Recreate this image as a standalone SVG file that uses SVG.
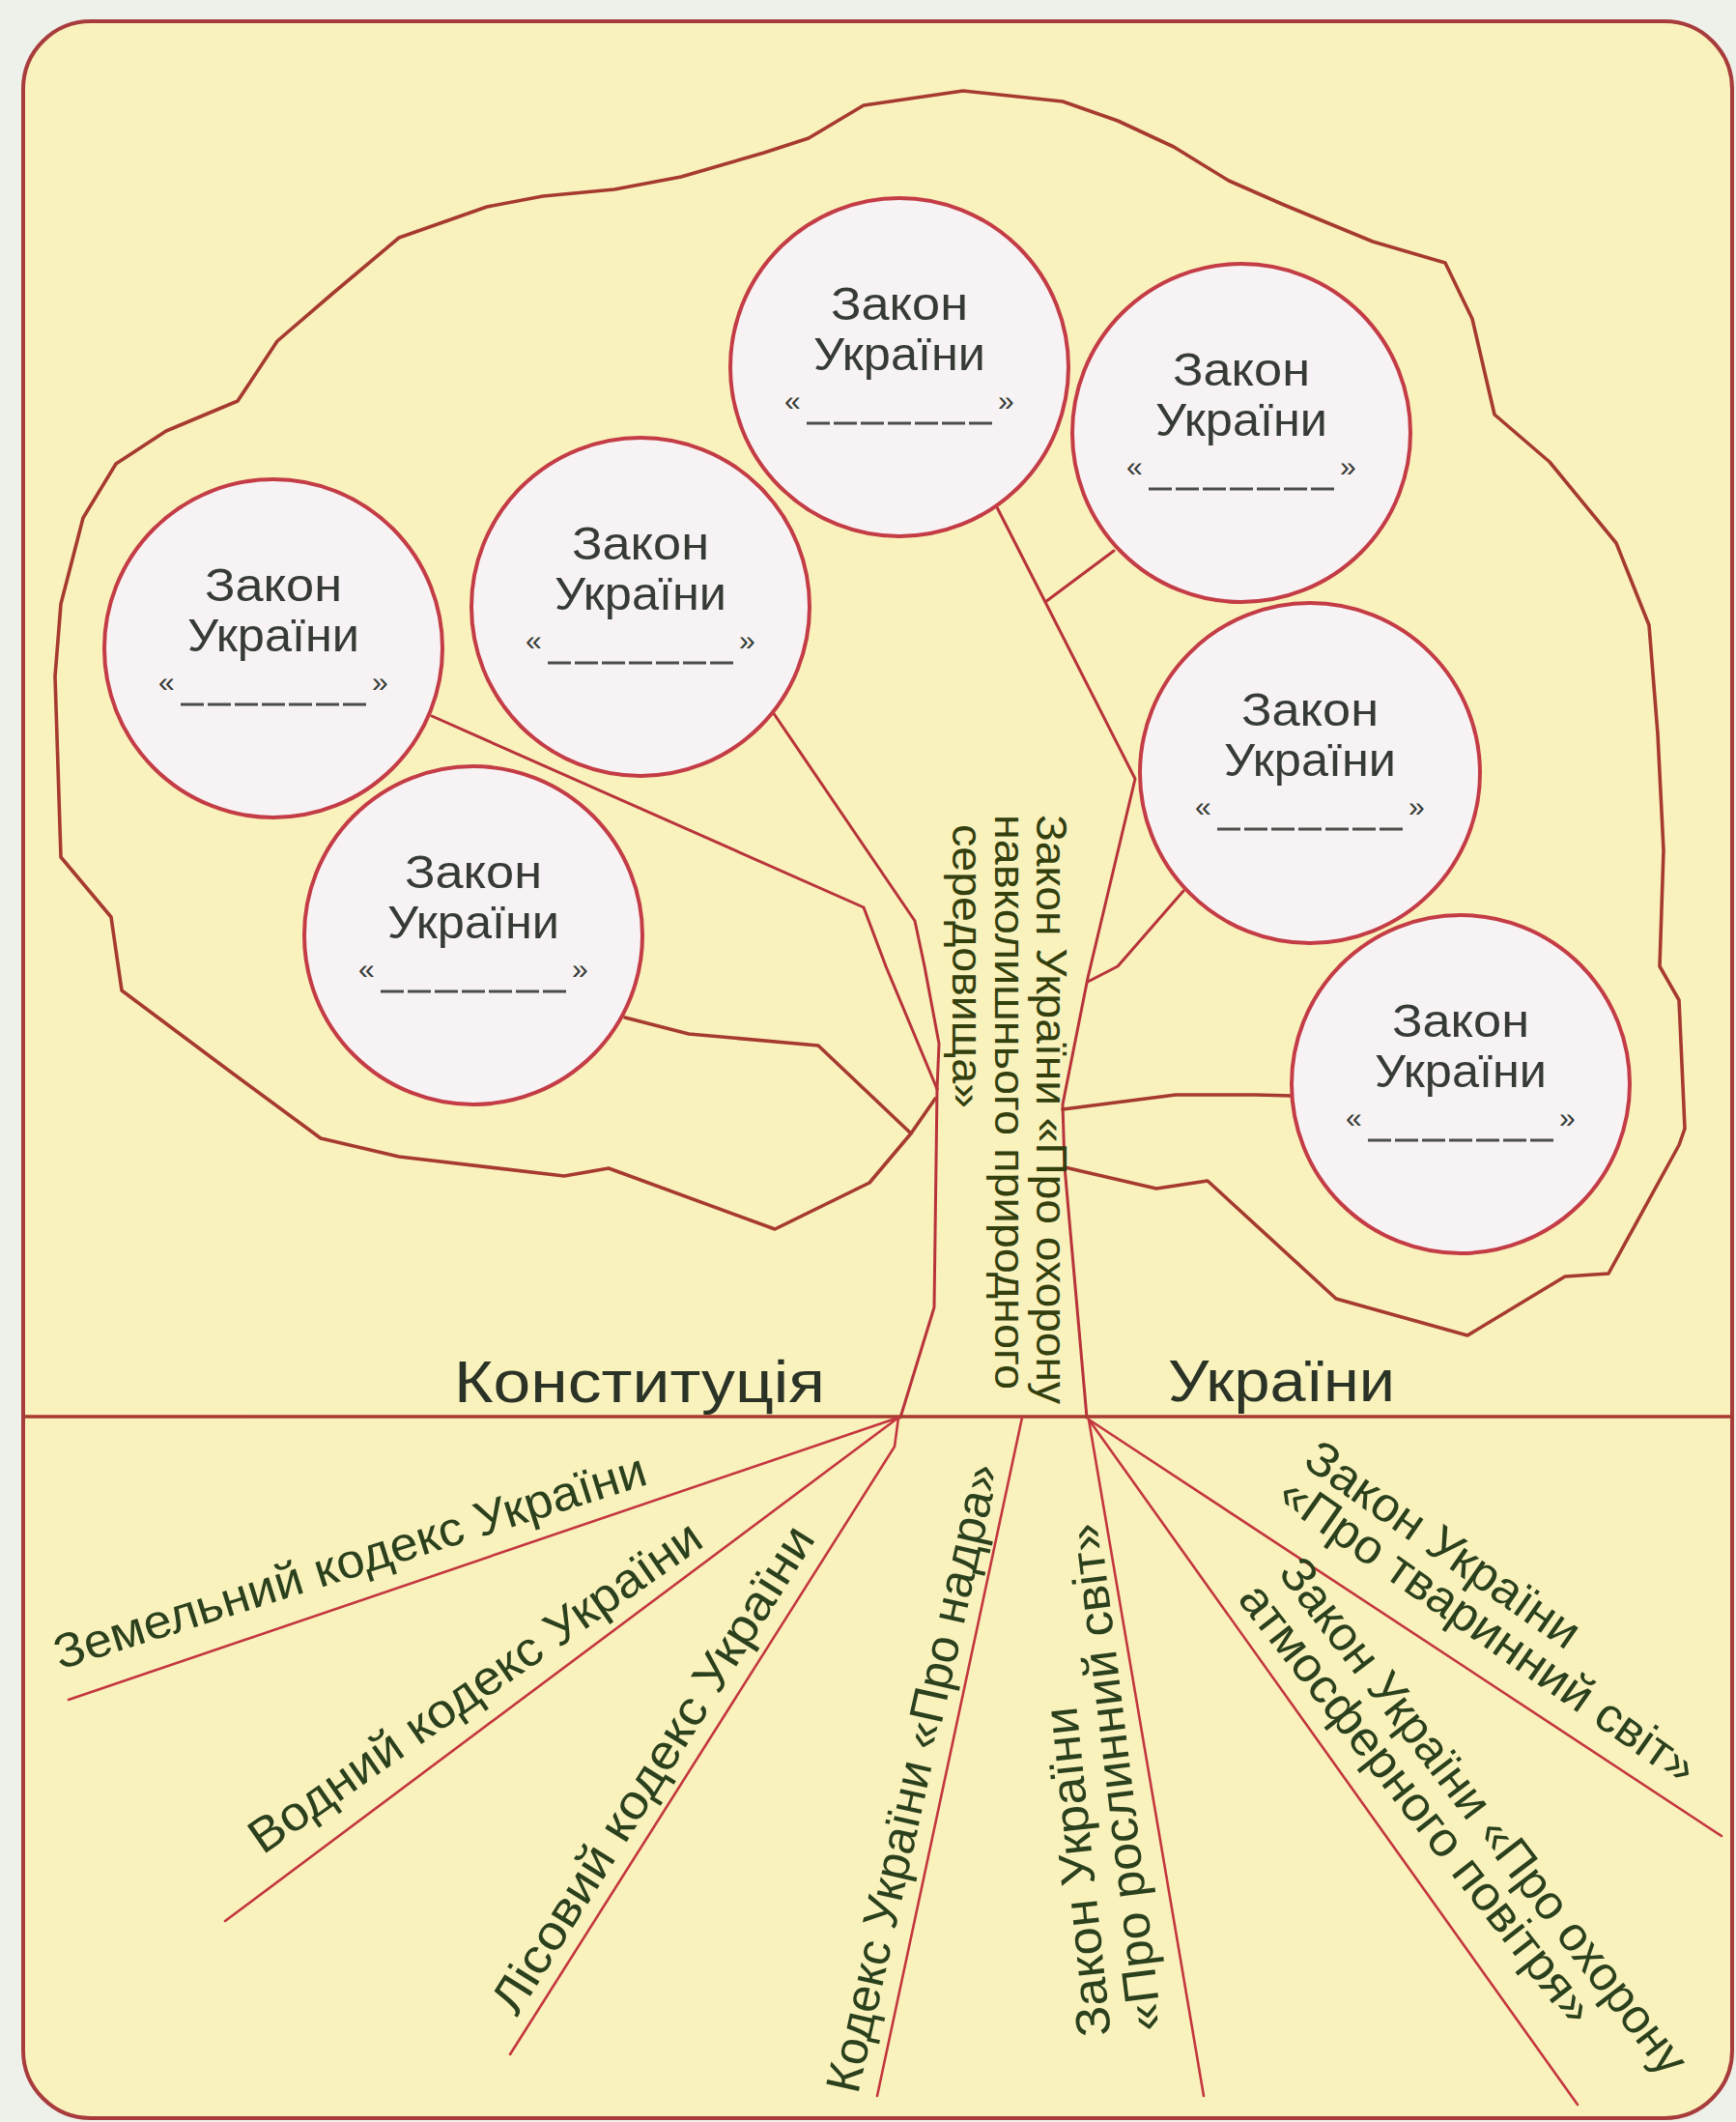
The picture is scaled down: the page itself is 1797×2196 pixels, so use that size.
<svg xmlns="http://www.w3.org/2000/svg" width="1797" height="2196" viewBox="0 0 1797 2196">
<style>
.crown{fill:none;stroke:#a63a30;stroke-width:3.6;stroke-linejoin:round;stroke-linecap:round}
.trunk{fill:none;stroke:#b8333a;stroke-width:3;stroke-linejoin:round;stroke-linecap:round}
.root{fill:none;stroke:#c4363e;stroke-width:2.6;stroke-linecap:round}
.node circle{fill:#f7f3f4;stroke:#c43c46;stroke-width:4}
.nt{font-family:"Liberation Sans",Arial,sans-serif;font-size:48px;fill:#363b36}
.q{font-family:"Liberation Sans",Arial,sans-serif;font-size:30px;fill:#363b36}
.dash{stroke:#4a4d48;stroke-width:3;stroke-dasharray:24 4}
.lbl{font-family:"Liberation Sans",Arial,sans-serif;font-size:50px;fill:#2b401c}
.big{font-family:"Liberation Sans",Arial,sans-serif;font-size:61px;fill:#2a3326}
.tr{font-family:"Liberation Sans",Arial,sans-serif;font-size:44px;fill:#33400e}
</style>
<rect x="0" y="0" width="1797" height="2196" fill="#eef0ea"/>
<rect x="24" y="22" width="1769" height="2170" rx="70" fill="#f9f2bd" stroke="#a83c3c" stroke-width="4"/>

<g id="connectors">
  <path class="crown" d="M1102,1208 L1197,1230 L1250,1222 L1383,1344 L1519,1382 L1620,1321 L1665,1318 L1738,1185 L1744,1168 L1738,1035 L1718,1000 L1722,880 L1716,760 L1707,647 L1673,562 L1604,478 L1547,429 L1524,330 L1496,272 L1421,250 L1329,212 L1272,187 L1215,152 L1157,125 L1100,105 L997,94 L894,109 L837,143 L791,158 L705,183 L636,196 L562,203 L504,214 L413,246 L344,304 L287,353 L246,415 L172,446 L120,480 L86,536 L63,625 L57,700 L63,887 L115,949 L126,1025 L229,1102 L332,1178 L413,1197 L584,1217 L630,1209 L802,1272 L900,1224 L943,1173 L968,1137"/>
  <polyline class="crown" points="647,1053 713,1070 847,1082 943,1173"/>
  <polyline class="trunk" points="447,741 894,939 917,1000 970,1127"/>
  <polyline class="trunk" points="800,737 947,953 957,1000 972,1080 970,1127"/>
  <polyline class="trunk" points="970,1127 967,1353 932,1467"/>
  <polyline class="trunk" points="1032,525 1082,623 1175,806 1126,1012 1100,1143 1102,1207 1125,1467"/>
  <polyline class="trunk" points="1153,570 1082,623"/>
  <polyline class="trunk" points="1225,922 1157,1000 1126,1016"/>
  <polyline class="crown" points="1337,1134 1300,1133 1217,1133 1100,1148"/>
  <line class="crown" x1="24" y1="1466" x2="1793" y2="1466"/>
  <line class="root" x1="930" y1="1467" x2="71" y2="1759"/>
  <line class="root" x1="930" y1="1467" x2="233" y2="1988"/>
  <polyline class="root" points="930,1467 926,1497 528,2126"/>
  <line class="root" x1="1058" y1="1467" x2="908" y2="2169"/>
  <line class="root" x1="1127" y1="1469" x2="1246" y2="2169"/>
  <line class="root" x1="1127" y1="1469" x2="1633" y2="2178"/>
  <line class="root" x1="1127" y1="1469" x2="1782" y2="1900"/>
</g>

<g id="node-1" class="node">
  <circle cx="931" cy="380" r="175"/>
  <text class="nt" x="860" y="331" textLength="142" lengthAdjust="spacingAndGlyphs">Закон</text>
  <text class="nt" x="842" y="383" textLength="178" lengthAdjust="spacingAndGlyphs">України</text>
  <text class="q" x="812" y="425">«</text><text class="q" x="1033" y="425">»</text>
  <line class="dash" x1="835" y1="438" x2="1029" y2="438"/>
</g>
<g id="node-2" class="node">
  <circle cx="1285" cy="448" r="175"/>
  <text class="nt" x="1214" y="399" textLength="142" lengthAdjust="spacingAndGlyphs">Закон</text>
  <text class="nt" x="1196" y="451" textLength="178" lengthAdjust="spacingAndGlyphs">України</text>
  <text class="q" x="1166" y="493">«</text><text class="q" x="1387" y="493">»</text>
  <line class="dash" x1="1189" y1="506" x2="1383" y2="506"/>
</g>
<g id="node-3" class="node">
  <circle cx="663" cy="628" r="175"/>
  <text class="nt" x="592" y="579" textLength="142" lengthAdjust="spacingAndGlyphs">Закон</text>
  <text class="nt" x="574" y="631" textLength="178" lengthAdjust="spacingAndGlyphs">України</text>
  <text class="q" x="544" y="673">«</text><text class="q" x="765" y="673">»</text>
  <line class="dash" x1="567" y1="686" x2="761" y2="686"/>
</g>
<g id="node-4" class="node">
  <circle cx="283" cy="671" r="175"/>
  <text class="nt" x="212" y="622" textLength="142" lengthAdjust="spacingAndGlyphs">Закон</text>
  <text class="nt" x="194" y="674" textLength="178" lengthAdjust="spacingAndGlyphs">України</text>
  <text class="q" x="164" y="716">«</text><text class="q" x="385" y="716">»</text>
  <line class="dash" x1="187" y1="729" x2="381" y2="729"/>
</g>
<g id="node-5" class="node">
  <circle cx="490" cy="968" r="175"/>
  <text class="nt" x="419" y="919" textLength="142" lengthAdjust="spacingAndGlyphs">Закон</text>
  <text class="nt" x="401" y="971" textLength="178" lengthAdjust="spacingAndGlyphs">України</text>
  <text class="q" x="371" y="1013">«</text><text class="q" x="592" y="1013">»</text>
  <line class="dash" x1="394" y1="1026" x2="588" y2="1026"/>
</g>
<g id="node-6" class="node">
  <circle cx="1356" cy="800" r="176"/>
  <text class="nt" x="1285" y="751" textLength="142" lengthAdjust="spacingAndGlyphs">Закон</text>
  <text class="nt" x="1267" y="803" textLength="178" lengthAdjust="spacingAndGlyphs">України</text>
  <text class="q" x="1237" y="845">«</text><text class="q" x="1458" y="845">»</text>
  <line class="dash" x1="1260" y1="858" x2="1454" y2="858"/>
</g>
<g id="node-7" class="node">
  <circle cx="1512" cy="1122" r="175"/>
  <text class="nt" x="1441" y="1073" textLength="142" lengthAdjust="spacingAndGlyphs">Закон</text>
  <text class="nt" x="1423" y="1125" textLength="178" lengthAdjust="spacingAndGlyphs">України</text>
  <text class="q" x="1393" y="1167">«</text><text class="q" x="1614" y="1167">»</text>
  <line class="dash" x1="1416" y1="1180" x2="1610" y2="1180"/>
</g>

<g id="trunk-label">
  <text class="tr" transform="translate(1073,843) rotate(90)" textLength="610" lengthAdjust="spacingAndGlyphs">Закон України «Про охорону</text>
  <text class="tr" transform="translate(1030,843) rotate(90)" textLength="595" lengthAdjust="spacingAndGlyphs">навколишнього природного</text>
  <text class="tr" transform="translate(986,853) rotate(90)" textLength="294" lengthAdjust="spacingAndGlyphs">середовища»</text>
</g>

<g id="constitution">
  <text class="big" x="470" y="1451" textLength="384" lengthAdjust="spacingAndGlyphs">Конституція</text>
  <text class="big" x="1209" y="1450" textLength="235" lengthAdjust="spacingAndGlyphs">України</text>
</g>

<g id="root-labels">
  <text class="lbl" transform="translate(62,1728) rotate(-17.5)" textLength="640" lengthAdjust="spacingAndGlyphs">Земельний кодекс України</text>
  <text class="lbl" transform="translate(272,1920) rotate(-35)" textLength="560" lengthAdjust="spacingAndGlyphs">Водний кодекс України</text>
  <text class="lbl" transform="translate(535,2088) rotate(-58)" textLength="585" lengthAdjust="spacingAndGlyphs">Лісовий кодекс України</text>
  <text class="lbl" transform="translate(888,2168) rotate(-77.3)" textLength="665" lengthAdjust="spacingAndGlyphs">Кодекс України «Про надра»</text>
  <text class="lbl" transform="translate(1150,2106) rotate(-96)" textLength="343" lengthAdjust="spacingAndGlyphs">Закон України</text>
  <text class="lbl" transform="translate(1203,2100) rotate(-97)" textLength="529" lengthAdjust="spacingAndGlyphs">«Про рослинний світ»</text>
  <text class="lbl" transform="translate(1322,1628) rotate(52.5)" textLength="659" lengthAdjust="spacingAndGlyphs">Закон України «Про охорону</text>
  <text class="lbl" transform="translate(1280,1655) rotate(52)" textLength="563" lengthAdjust="spacingAndGlyphs">атмосферного повітря»</text>
  <text class="lbl" transform="translate(1347,1516) rotate(35)" textLength="335" lengthAdjust="spacingAndGlyphs">Закон України</text>
  <text class="lbl" transform="translate(1320,1553) rotate(35)" textLength="515" lengthAdjust="spacingAndGlyphs">«Про тваринний світ»</text>
</g>
</svg>
